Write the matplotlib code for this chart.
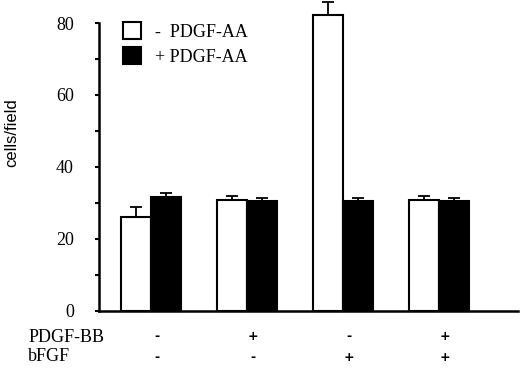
import numpy as np
import matplotlib.pyplot as plt

# data
groups = [0, 1, 2, 3]
minus_aa = [26.1, 30.9, 82.2, 30.8]
minus_aa_err = [2.7, 1.1, 3.6, 1.1]
plus_aa = [31.6, 30.6, 30.6, 30.6]
plus_aa_err = [1.1, 0.9, 0.8, 0.8]
pdgf_bb = ['-', '+', '-', '+']
bfgf = ['-', '-', '+', '+']
yticks = [0, 20, 40, 60, 80]

fig = plt.figure(figsize=(5.2, 3.68), dpi=100)
ax = fig.add_axes([0.190, 0.155, 0.806, 0.7825])

x = np.array(groups)
w = 0.3125
ekw = dict(elinewidth=1.3, capthick=1.3, capsize=4, ecolor='black')
ax.bar(x - w / 2, minus_aa, w, color='white', edgecolor='black', linewidth=1.5,
       yerr=[np.zeros(4), minus_aa_err], error_kw=ekw, label='-  PDGF-AA', clip_on=False)
ax.bar(x + w / 2, plus_aa, w, color='black', edgecolor='black', linewidth=1.5,
       yerr=[np.zeros(4), plus_aa_err], error_kw=ekw, label='+ PDGF-AA', clip_on=False)
# let the tall bar and its error bar run above the axis top
for c in ax.containers:
    eb = getattr(c, 'errorbar', None)
    if eb is not None:
        for art in list(eb.lines[1]) + list(eb.lines[2]):
            art.set_clip_on(False)

ax.set_ylim(0, 80)
ax.set_xlim(-0.542, 3.823)
ax.set_yticks(yticks)
ax.set_yticks([10, 30, 50, 70], minor=True)
ax.set_yticklabels([str(v) for v in yticks], family='Liberation Serif', fontsize=13)
ax.tick_params(axis='y', which='both', direction='out', length=3, width=1.5, pad=15)
ax.set_xticks([])
for s in ['top', 'right']:
    ax.spines[s].set_visible(False)
ax.spines['left'].set_linewidth(1.8)
ax.spines['bottom'].set_linewidth(1.8)

leg = ax.legend(loc='upper left', bbox_to_anchor=(0.018, 1.06), frameon=False,
                prop={'family': 'Liberation Serif', 'size': 13},
                handlelength=1.0, handleheight=1.1, handletextpad=0.8, labelspacing=0.35)

fig.text(0.022, 0.64, 'cells/field', rotation=90, ha='center', va='center',
         family='Liberation Sans', fontsize=12)

fig.text(0.054, 0.084, 'PDGF-BB', family='Liberation Serif', fontsize=13, va='center')
fig.text(0.054, 0.030, 'bFGF', family='Liberation Serif', fontsize=13, va='center')
for g, a, b in zip(groups, pdgf_bb, bfgf):
    ax.text(g + 0.06, -0.09, a, transform=ax.get_xaxis_transform(), ha='center',
            va='center', fontsize=9, fontweight='bold', family='DejaVu Sans')
    ax.text(g + 0.06, -0.16, b, transform=ax.get_xaxis_transform(), ha='center',
            va='center', fontsize=9, fontweight='bold', family='DejaVu Sans')

fig.savefig('out.png', dpi=100)
